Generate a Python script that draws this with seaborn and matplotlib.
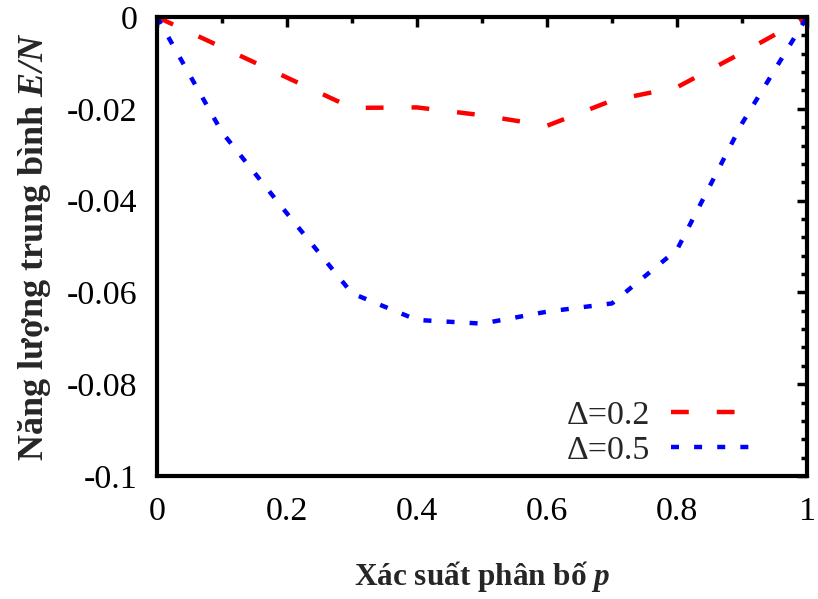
import numpy as np
import pandas as pd
import matplotlib
matplotlib.use("Agg")
import matplotlib.pyplot as plt
import seaborn as sns

# Data
p = [0.0, 0.1, 0.2, 0.3, 0.4, 0.5, 0.6, 0.7, 0.8, 0.9, 1.0]
e_d02 = [0.0, -0.0066, -0.0132, -0.0198, -0.0197, -0.0214, -0.0237, -0.0182, -0.0153, -0.0078, 0.0]
e_d05 = [0.0, -0.0251, -0.0428, -0.0602, -0.0660, -0.0668, -0.0642, -0.0624, -0.0507, -0.0232, 0.0]
labels = ["Δ=0.2", "Δ=0.5"]
xticks = [0, 0.2, 0.4, 0.6, 0.8, 1]
xticklabels = ["0", "0.2", "0.4", "0.6", "0.8", "1"]
yticks = [-0.1, -0.08, -0.06, -0.04, -0.02, 0]
yticklabels = ["-0.1", "-0.08", "-0.06", "-0.04", "-0.02", "0"]

sns.set_theme(style="white")
plt.rcParams["font.family"] = ["Liberation Serif", "DejaVu Serif"]
plt.rcParams["mathtext.fontset"] = "custom"
plt.rcParams["mathtext.rm"] = "Liberation Serif"
plt.rcParams["mathtext.it"] = "Liberation Serif:italic"
plt.rcParams["mathtext.bf"] = "Liberation Serif:bold"
plt.rcParams["mathtext.bfit"] = "Liberation Serif:italic:bold"

fig = plt.figure(figsize=(8.18, 5.99), dpi=100)
ax = fig.add_axes([157/818, 1-476/599, (807-157)/818, (476-17)/599])

df = pd.DataFrame({"p": p * 2, "E": e_d02 + e_d05,
                   "s": [labels[0]] * len(p) + [labels[1]] * len(p)})
sns.lineplot(data=df, x="p", y="E", hue="s", palette=["#ff0000", "#0000ff"],
             ax=ax, lw=3.2, legend=False)
ax.lines[0].set_dashes((4.0, 6.3))
ax.lines[1].set_dashes((1.8, 3.4))
for ln, lab in zip(ax.lines, labels):
    ln.set_label(lab)
    ln.set_dash_capstyle("butt")

ax.set_xlim(0, 1)
ax.set_ylim(-0.1, 0)
ax.set_xticks(xticks)
ax.set_xticklabels(xticklabels)
ax.set_yticks(yticks)
ax.set_yticklabels(yticklabels)
ax.set_xticks(np.arange(0.1, 1.0, 0.2), minor=True)
ax.set_yticks(np.arange(-0.1, 0.0001, 0.004), minor=True)
ax.tick_params(which="both", direction="in", top=True, right=True, width=2.5,
               color="black", labelsize=24.5, labelcolor="black")
ax.tick_params(which="major", length=7)
ax.tick_params(which="minor", length=4)
ax.tick_params(axis="y", pad=14)
ax.tick_params(axis="x", pad=15)
for s in ax.spines.values():
    s.set_linewidth(3)
    s.set_color("black")
    s.set_visible(True)

ax.set_xlabel("Xác suất phân bố $\\mathbfit{p}$", fontsize=22.5, fontweight="bold", labelpad=23)
ax.set_ylabel("Năng lượng trung bình $\\mathbfit{E/N}$", fontsize=26, fontweight="bold", labelpad=10)

ax.legend(loc="lower right", bbox_to_anchor=(756/818, 1-466/599), bbox_transform=fig.transFigure,
          frameon=False, markerfirst=False, fontsize=24.5, handlelength=2.5,
          handletextpad=0.6, labelspacing=0.12, borderpad=0, borderaxespad=0)

fig.savefig("out.png", dpi=100)
